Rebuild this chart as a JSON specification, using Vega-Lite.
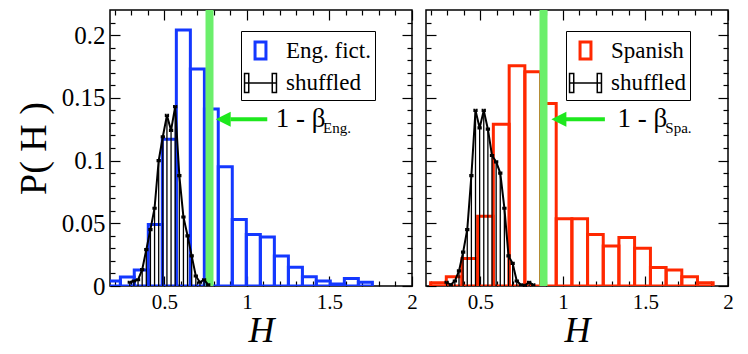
{
  "$schema": "https://vega.github.io/schema/vega-lite/v6.json",
  "background": "white",
  "padding": {"left": 14, "top": 5, "right": 5, "bottom": 0},
  "spacing": 6,
  "resolve": {
    "scale": {"stroke": "independent", "shape": "independent", "strokeWidth": "independent"},
    "legend": {"stroke": "independent", "shape": "independent", "strokeWidth": "independent"}
  },
  "datasets": {
    "eng": [
      {"series": "Eng. fict.", "h0": 0.148, "h1": 0.233, "p": 0.004},
      {"series": "Eng. fict.", "h0": 0.233, "h1": 0.317, "p": 0.0072},
      {"series": "Eng. fict.", "h0": 0.317, "h1": 0.402, "p": 0.0127},
      {"series": "Eng. fict.", "h0": 0.402, "h1": 0.487, "p": 0.049},
      {"series": "Eng. fict.", "h0": 0.487, "h1": 0.572, "p": 0.117},
      {"series": "Eng. fict.", "h0": 0.572, "h1": 0.657, "p": 0.204},
      {"series": "Eng. fict.", "h0": 0.657, "h1": 0.742, "p": 0.173},
      {"series": "Eng. fict.", "h0": 0.742, "h1": 0.826, "p": 0.141},
      {"series": "Eng. fict.", "h0": 0.826, "h1": 0.911, "p": 0.095},
      {"series": "Eng. fict.", "h0": 0.911, "h1": 0.996, "p": 0.053},
      {"series": "Eng. fict.", "h0": 0.996, "h1": 1.081, "p": 0.041},
      {"series": "Eng. fict.", "h0": 1.081, "h1": 1.166, "p": 0.039},
      {"series": "Eng. fict.", "h0": 1.166, "h1": 1.251, "p": 0.024},
      {"series": "Eng. fict.", "h0": 1.251, "h1": 1.336, "p": 0.015},
      {"series": "Eng. fict.", "h0": 1.336, "h1": 1.420, "p": 0.0074},
      {"series": "Eng. fict.", "h0": 1.420, "h1": 1.505, "p": 0.004},
      {"series": "Eng. fict.", "h0": 1.505, "h1": 1.590, "p": 0.0016},
      {"series": "Eng. fict.", "h0": 1.590, "h1": 1.675, "p": 0.006},
      {"series": "Eng. fict.", "h0": 1.675, "h1": 1.760, "p": 0.003}
    ],
    "engShuf": [
      {"series": "shuffled", "h": 0.29, "p": 0.003},
      {"series": "shuffled", "h": 0.315, "p": 0.004},
      {"series": "shuffled", "h": 0.34, "p": 0.005},
      {"series": "shuffled", "h": 0.365, "p": 0.013},
      {"series": "shuffled", "h": 0.39, "p": 0.029},
      {"series": "shuffled", "h": 0.415, "p": 0.045},
      {"series": "shuffled", "h": 0.44, "p": 0.062},
      {"series": "shuffled", "h": 0.465, "p": 0.1},
      {"series": "shuffled", "h": 0.49, "p": 0.119},
      {"series": "shuffled", "h": 0.515, "p": 0.136},
      {"series": "shuffled", "h": 0.54, "p": 0.124},
      {"series": "shuffled", "h": 0.565, "p": 0.143},
      {"series": "shuffled", "h": 0.59, "p": 0.088},
      {"series": "shuffled", "h": 0.615, "p": 0.055},
      {"series": "shuffled", "h": 0.64, "p": 0.04},
      {"series": "shuffled", "h": 0.665, "p": 0.024},
      {"series": "shuffled", "h": 0.69, "p": 0.008},
      {"series": "shuffled", "h": 0.715, "p": 0.003},
      {"series": "shuffled", "h": 0.74, "p": 0.005},
      {"series": "shuffled", "h": 0.765, "p": 0.001}
    ],
    "spa": [
      {"series": "Spanish", "h0": 0.198, "h1": 0.293, "p": 0.0026},
      {"series": "Spanish", "h0": 0.293, "h1": 0.388, "p": 0.0074},
      {"series": "Spanish", "h0": 0.388, "h1": 0.483, "p": 0.022},
      {"series": "Spanish", "h0": 0.483, "h1": 0.578, "p": 0.0556},
      {"series": "Spanish", "h0": 0.578, "h1": 0.674, "p": 0.129},
      {"series": "Spanish", "h0": 0.674, "h1": 0.769, "p": 0.1755},
      {"series": "Spanish", "h0": 0.769, "h1": 0.864, "p": 0.1707},
      {"series": "Spanish", "h0": 0.864, "h1": 0.959, "p": 0.1455},
      {"series": "Spanish", "h0": 0.959, "h1": 1.054, "p": 0.0537},
      {"series": "Spanish", "h0": 1.054, "h1": 1.149, "p": 0.0537},
      {"series": "Spanish", "h0": 1.149, "h1": 1.244, "p": 0.041},
      {"series": "Spanish", "h0": 1.244, "h1": 1.339, "p": 0.0318},
      {"series": "Spanish", "h0": 1.339, "h1": 1.434, "p": 0.0387},
      {"series": "Spanish", "h0": 1.434, "h1": 1.530, "p": 0.03},
      {"series": "Spanish", "h0": 1.530, "h1": 1.625, "p": 0.0148},
      {"series": "Spanish", "h0": 1.625, "h1": 1.720, "p": 0.0127},
      {"series": "Spanish", "h0": 1.720, "h1": 1.815, "p": 0.0074},
      {"series": "Spanish", "h0": 1.815, "h1": 1.910, "p": 0.0026}
    ],
    "spaShuf": [
      {"series": "shuffled", "h": 0.295, "p": 0.003},
      {"series": "shuffled", "h": 0.32, "p": 0.001},
      {"series": "shuffled", "h": 0.345, "p": 0.004},
      {"series": "shuffled", "h": 0.37, "p": 0.012},
      {"series": "shuffled", "h": 0.395, "p": 0.027},
      {"series": "shuffled", "h": 0.42, "p": 0.045},
      {"series": "shuffled", "h": 0.445, "p": 0.088},
      {"series": "shuffled", "h": 0.47, "p": 0.14},
      {"series": "shuffled", "h": 0.495, "p": 0.126},
      {"series": "shuffled", "h": 0.52, "p": 0.14},
      {"series": "shuffled", "h": 0.545, "p": 0.125},
      {"series": "shuffled", "h": 0.57, "p": 0.104},
      {"series": "shuffled", "h": 0.595, "p": 0.099},
      {"series": "shuffled", "h": 0.62, "p": 0.09},
      {"series": "shuffled", "h": 0.645, "p": 0.062},
      {"series": "shuffled", "h": 0.67, "p": 0.024},
      {"series": "shuffled", "h": 0.695, "p": 0.018},
      {"series": "shuffled", "h": 0.72, "p": 0.004},
      {"series": "shuffled", "h": 0.745, "p": 0.001},
      {"series": "shuffled", "h": 0.77, "p": 0.0005},
      {"series": "shuffled", "h": 0.795, "p": 0.003},
      {"series": "shuffled", "h": 0.82, "p": 0.001}
    ],
    "betaEng": [{"label": "1 - β", "sub": "Eng.", "beta": 0.773}],
    "betaSpa": [{"label": "1 - β", "sub": "Spa.", "beta": 0.882}]
  },
  "config": {
    "view": {"stroke": "black", "strokeWidth": 1.5},
    "axis": {
      "domain": false, "grid": false, "tickColor": "black", "tickWidth": 1.2,
      "labelFont": "Liberation Serif", "labelColor": "black", "labelFlush": false,
      "labelOverlap": false, "labelBound": false,
      "titleFont": "Liberation Serif", "titleColor": "black", "titleFontWeight": "normal"
    },
    "text": {"font": "Liberation Serif", "color": "black"},
    "legend": {
      "title": null, "orient": "none", "padding": 4, "rowPadding": 2, "labelOffset": 10,
      "labelFont": "Liberation Serif", "labelFontSize": 23, "labelColor": "black",
      "strokeColor": "black", "fillColor": "white", "symbolSize": 784, "cornerRadius": 0,
      "symbolFillColor": "transparent"
    }
  },
  "hconcat": [
    {
      "width": 302, "height": 276,
      "resolve": {"axis": {"x": "independent", "y": "independent"}},
      "layer": [
        {
          "data": {"name": "eng"},
          "mark": {"type": "bar", "fill": "transparent", "strokeWidth": 3, "clip": true},
          "encoding": {
            "x": {"field": "h0", "type": "quantitative", "scale": {"domain": [0.17, 2], "nice": false, "zero": false},
              "axis": {"orient": "bottom", "values": [0.5, 1, 1.5, 2], "format": "~g", "ticks": false, "labelFontSize": 21, "labelPadding": 5, "title": "H", "titleFontSize": 36, "titleFontStyle": "italic", "titlePadding": 1}},
            "x2": {"field": "h1"},
            "y": {"field": "p", "type": "quantitative", "scale": {"domain": [0, 0.22], "nice": false},
              "axis": {"orient": "left", "values": [0, 0.05, 0.1, 0.15, 0.2], "format": "~g", "ticks": false, "labelFontSize": 25, "labelPadding": 5, "title": "P( H )", "titleFontSize": 38, "titlePadding": 8}},
            "y2": {"datum": 0},
            "stroke": {"field": "series", "type": "nominal",
              "scale": {"domain": ["Eng. fict.", "shuffled"], "range": ["#1438ff", "#000000"]},
              "legend": {"legendX": 131, "legendY": 21,
                "encode": {"legend": {"strokeWidth": {"value": 1.5}}}}}
          }
        },
        {
          "data": {"name": "betaEng"},
          "mark": {"type": "rule", "color": "#6bef6b", "strokeWidth": 8},
          "encoding": {
            "x": {"field": "beta", "type": "quantitative", "axis": {"orient": "top", "values": [0.5, 1, 1.5, 2], "labels": false, "tickSize": -10, "title": null}},
            "y": {"datum": 0, "type": "quantitative", "axis": {"orient": "right", "values": [0, 0.05, 0.1, 0.15, 0.2], "labels": false, "tickSize": -10, "title": null}},
            "y2": {"datum": 0.22}
          }
        },
        {
          "data": {"name": "engShuf"},
          "mark": {"type": "rule", "strokeWidth": 1.3},
          "encoding": {
            "x": {"field": "h", "type": "quantitative", "axis": {"orient": "bottom", "values": [0.5, 1, 1.5, 2], "labels": false, "tickSize": -10, "title": null}},
            "y": {"field": "p", "type": "quantitative", "axis": {"orient": "left", "values": [0, 0.05, 0.1, 0.15, 0.2], "labels": false, "tickSize": -10, "title": null}},
            "y2": {"datum": 0},
            "stroke": {"field": "series", "type": "nominal"}
          }
        },
        {
          "data": {"name": "engShuf"},
          "mark": {"type": "line", "strokeWidth": 2},
          "encoding": {
            "x": {"field": "h", "type": "quantitative", "axis": {"orient": "bottom", "values": [0.2, 0.3, 0.4, 0.6, 0.7, 0.8, 0.9, 1.1, 1.2, 1.3, 1.4, 1.6, 1.7, 1.8, 1.9], "labels": false, "tickSize": -5, "title": null}},
            "y": {"field": "p", "type": "quantitative", "axis": {"orient": "left", "values": [0.01, 0.02, 0.03, 0.04, 0.06, 0.07, 0.08, 0.09, 0.11, 0.12, 0.13, 0.14, 0.16, 0.17, 0.18, 0.19, 0.21], "labels": false, "tickSize": -5, "title": null}},
            "stroke": {"field": "series", "type": "nominal"}
          }
        },
        {
          "data": {"name": "engShuf"},
          "mark": {"type": "point", "filled": false, "size": 6, "opacity": 1},
          "encoding": {
            "x": {"field": "h", "type": "quantitative", "axis": null},
            "y": {"field": "p", "type": "quantitative", "axis": null},
            "stroke": {"field": "series", "type": "nominal"},
            "shape": {"field": "series", "type": "nominal",
              "scale": {"domain": ["Eng. fict.", "shuffled"], "range": ["M-0.39,-0.61H0.39V0.61H-0.39Z", "M-1.14,0H1.14M-1.14,-0.68h0.3v1.36h-0.3zM1.14,-0.68h-0.3v1.36h0.3z"]},
              "legend": {"legendX": 131, "legendY": 21}},
            "strokeWidth": {"field": "series", "type": "nominal",
              "scale": {"domain": ["Eng. fict.", "shuffled"], "range": [3, 1.5]},
              "legend": {"legendX": 131, "legendY": 21}}
          }
        },
        {
          "data": {"name": "betaEng"},
          "mark": {"type": "rule", "color": "#1ee81e", "strokeWidth": 4},
          "encoding": {
            "x": {"datum": 0.9, "type": "quantitative", "axis": {"orient": "top", "values": [0.2, 0.3, 0.4, 0.6, 0.7, 0.8, 0.9, 1.1, 1.2, 1.3, 1.4, 1.6, 1.7, 1.8, 1.9], "labels": false, "tickSize": -5, "title": null}},
            "x2": {"datum": 1.123},
            "y": {"datum": 0.133, "type": "quantitative", "axis": {"orient": "right", "values": [0.01, 0.02, 0.03, 0.04, 0.06, 0.07, 0.08, 0.09, 0.11, 0.12, 0.13, 0.14, 0.16, 0.17, 0.18, 0.19, 0.21], "labels": false, "tickSize": -5, "title": null}}
          }
        },
        {
          "data": {"name": "betaEng"},
          "mark": {"type": "point", "shape": "M-1,0L1,-1L1,1Z", "filled": true, "color": "#1ee81e", "size": 225, "opacity": 1},
          "encoding": {
            "x": {"datum": 0.856, "type": "quantitative", "axis": null},
            "y": {"datum": 0.133, "type": "quantitative", "axis": null}
          }
        },
        {
          "data": {"name": "betaEng"},
          "mark": {"type": "text", "align": "left", "baseline": "middle", "fontSize": 27},
          "encoding": {
            "x": {"datum": 1.174, "type": "quantitative", "axis": null},
            "y": {"datum": 0.133, "type": "quantitative", "axis": null},
            "text": {"field": "label"}
          }
        },
        {
          "data": {"name": "betaEng"},
          "mark": {"type": "text", "align": "left", "baseline": "middle", "fontSize": 15},
          "encoding": {
            "x": {"datum": 1.461, "type": "quantitative", "axis": null},
            "y": {"datum": 0.1257, "type": "quantitative", "axis": null},
            "text": {"field": "sub"}
          }
        }
      ]
    },
    {
      "width": 302, "height": 276,
      "resolve": {"axis": {"x": "independent", "y": "independent"}},
      "layer": [
        {
          "data": {"name": "spa"},
          "mark": {"type": "bar", "fill": "transparent", "strokeWidth": 3, "clip": true},
          "encoding": {
            "x": {"field": "h0", "type": "quantitative", "scale": {"domain": [0.17, 2], "nice": false, "zero": false},
              "axis": {"orient": "bottom", "values": [0.5, 1, 1.5, 2], "format": "~g", "ticks": false, "labelFontSize": 21, "labelPadding": 5, "title": "H", "titleFontSize": 36, "titleFontStyle": "italic", "titlePadding": 1}},
            "x2": {"field": "h1"},
            "y": {"field": "p", "type": "quantitative", "scale": {"domain": [0, 0.22], "nice": false},
              "axis": {"orient": "left", "values": [0, 0.05, 0.1, 0.15, 0.2], "labels": false, "tickSize": -10, "title": null}},
            "y2": {"datum": 0},
            "stroke": {"field": "series", "type": "nominal",
              "scale": {"domain": ["Spanish", "shuffled"], "range": ["#ff2800", "#000000"]},
              "legend": {"legendX": 140, "legendY": 21,
                "encode": {"legend": {"strokeWidth": {"value": 1.5}}}}}
          }
        },
        {
          "data": {"name": "betaSpa"},
          "mark": {"type": "rule", "color": "#6bef6b", "strokeWidth": 8},
          "encoding": {
            "x": {"field": "beta", "type": "quantitative", "axis": {"orient": "top", "values": [0.5, 1, 1.5, 2], "labels": false, "tickSize": -10, "title": null}},
            "y": {"datum": 0, "type": "quantitative", "axis": {"orient": "right", "values": [0, 0.05, 0.1, 0.15, 0.2], "labels": false, "tickSize": -10, "title": null}},
            "y2": {"datum": 0.22}
          }
        },
        {
          "data": {"name": "spaShuf"},
          "mark": {"type": "rule", "strokeWidth": 1.3},
          "encoding": {
            "x": {"field": "h", "type": "quantitative", "axis": {"orient": "bottom", "values": [0.5, 1, 1.5, 2], "labels": false, "tickSize": -10, "title": null}},
            "y": {"field": "p", "type": "quantitative", "axis": {"orient": "left", "values": [0.01, 0.02, 0.03, 0.04, 0.06, 0.07, 0.08, 0.09, 0.11, 0.12, 0.13, 0.14, 0.16, 0.17, 0.18, 0.19, 0.21], "labels": false, "tickSize": -5, "title": null}},
            "y2": {"datum": 0},
            "stroke": {"field": "series", "type": "nominal"}
          }
        },
        {
          "data": {"name": "spaShuf"},
          "mark": {"type": "line", "strokeWidth": 2},
          "encoding": {
            "x": {"field": "h", "type": "quantitative", "axis": {"orient": "bottom", "values": [0.2, 0.3, 0.4, 0.6, 0.7, 0.8, 0.9, 1.1, 1.2, 1.3, 1.4, 1.6, 1.7, 1.8, 1.9], "labels": false, "tickSize": -5, "title": null}},
            "y": {"field": "p", "type": "quantitative", "axis": {"orient": "right", "values": [0.01, 0.02, 0.03, 0.04, 0.06, 0.07, 0.08, 0.09, 0.11, 0.12, 0.13, 0.14, 0.16, 0.17, 0.18, 0.19, 0.21], "labels": false, "tickSize": -5, "title": null}},
            "stroke": {"field": "series", "type": "nominal"}
          }
        },
        {
          "data": {"name": "spaShuf"},
          "mark": {"type": "point", "filled": false, "size": 6, "opacity": 1},
          "encoding": {
            "x": {"field": "h", "type": "quantitative", "axis": null},
            "y": {"field": "p", "type": "quantitative", "axis": null},
            "stroke": {"field": "series", "type": "nominal"},
            "shape": {"field": "series", "type": "nominal",
              "scale": {"domain": ["Spanish", "shuffled"], "range": ["M-0.39,-0.61H0.39V0.61H-0.39Z", "M-1.14,0H1.14M-1.14,-0.68h0.3v1.36h-0.3zM1.14,-0.68h-0.3v1.36h0.3z"]},
              "legend": {"legendX": 140, "legendY": 21}},
            "strokeWidth": {"field": "series", "type": "nominal",
              "scale": {"domain": ["Spanish", "shuffled"], "range": [3, 1.5]},
              "legend": {"legendX": 140, "legendY": 21}}
          }
        },
        {
          "data": {"name": "betaSpa"},
          "mark": {"type": "rule", "color": "#1ee81e", "strokeWidth": 4},
          "encoding": {
            "x": {"datum": 0.975, "type": "quantitative", "axis": {"orient": "top", "values": [0.2, 0.3, 0.4, 0.6, 0.7, 0.8, 0.9, 1.1, 1.2, 1.3, 1.4, 1.6, 1.7, 1.8, 1.9], "labels": false, "tickSize": -5, "title": null}},
            "x2": {"datum": 1.254},
            "y": {"datum": 0.133, "type": "quantitative", "axis": null}
          }
        },
        {
          "data": {"name": "betaSpa"},
          "mark": {"type": "point", "shape": "M-1,0L1,-1L1,1Z", "filled": true, "color": "#1ee81e", "size": 225, "opacity": 1},
          "encoding": {
            "x": {"datum": 0.975, "type": "quantitative", "axis": null},
            "y": {"datum": 0.133, "type": "quantitative", "axis": null}
          }
        },
        {
          "data": {"name": "betaSpa"},
          "mark": {"type": "text", "align": "left", "baseline": "middle", "fontSize": 27},
          "encoding": {
            "x": {"datum": 1.33, "type": "quantitative", "axis": null},
            "y": {"datum": 0.133, "type": "quantitative", "axis": null},
            "text": {"field": "label"}
          }
        },
        {
          "data": {"name": "betaSpa"},
          "mark": {"type": "text", "align": "left", "baseline": "middle", "fontSize": 15},
          "encoding": {
            "x": {"datum": 1.62, "type": "quantitative", "axis": null},
            "y": {"datum": 0.1257, "type": "quantitative", "axis": null},
            "text": {"field": "sub"}
          }
        }
      ]
    }
  ]
}
